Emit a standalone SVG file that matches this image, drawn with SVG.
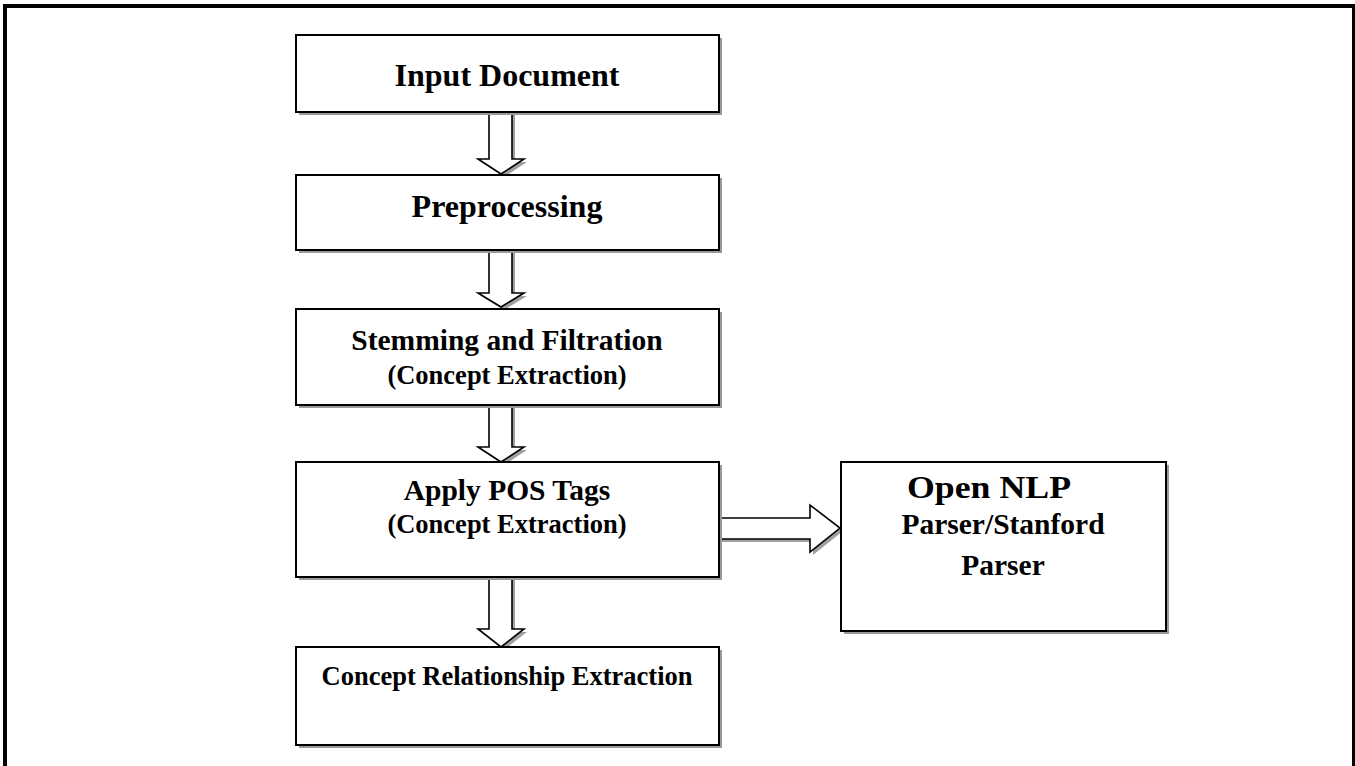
<svg xmlns="http://www.w3.org/2000/svg" width="1355" height="766" viewBox="0 0 1355 766">
  <style>
    .box { fill: #ffffff; stroke: #000000; stroke-width: 2; }
    .shadow { fill: #9a9a9a; stroke: none; }
    .arrow { fill: #ffffff; stroke: #000000; stroke-width: 1.6; stroke-linejoin: miter; }
    .arrow-shadow { fill: #a0a0a0; stroke: none; }
    .title { font-family: "Liberation Serif", "Times New Roman", serif; font-weight: bold; fill: #000000; text-anchor: middle; }
  </style>

  <rect width="1355" height="766" fill="#ffffff"/>
  <!-- page frame -->
  <rect x="5" y="6" width="1349" height="800" fill="none" stroke="#000000" stroke-width="4"/>

  <g id="connectors">
    <!-- Input Document -> Preprocessing -->
    <path class="arrow-shadow" d="M492,114 H515 V162 H527 L504,177 L481,162 H492 Z"/>
    <path class="arrow" d="M489,111 H512 V159 H524 L501,174 L478,159 H489 Z"/>
    <!-- Preprocessing -> Stemming and Filtration -->
    <path class="arrow-shadow" d="M492,253 H515 V296 H527 L504,310 L481,296 H492 Z"/>
    <path class="arrow" d="M489,250 H512 V293 H524 L501,307 L478,293 H489 Z"/>
    <!-- Stemming and Filtration -> Apply POS Tags -->
    <path class="arrow-shadow" d="M492,408 H515 V450 H527 L504,465 L481,450 H492 Z"/>
    <path class="arrow" d="M489,405 H512 V447 H524 L501,462 L478,447 H489 Z"/>
    <!-- Apply POS Tags -> Concept Relationship Extraction -->
    <path class="arrow-shadow" d="M492,580 H515 V632 H527 L504,650 L481,632 H492 Z"/>
    <path class="arrow" d="M489,577 H512 V629 H524 L501,647 L478,629 H489 Z"/>
    <!-- Apply POS Tags -> Open NLP Parser -->
    <path class="arrow-shadow" d="M721,521 H813 V508 L843,531 L813,555 V542 H721 Z"/>
    <path class="arrow" d="M718,518 H810 V505 L840,528 L810,552 V539 H718 Z"/>
  </g>

  <g id="input-document">
    <rect class="shadow" x="299" y="38" width="423" height="77"/>
    <rect class="box" x="296" y="35" width="423" height="77"/>
    <text class="title" x="507" y="86" font-size="32">Input Document</text>
  </g>

  <g id="preprocessing">
    <rect class="shadow" x="299" y="178" width="423" height="75"/>
    <rect class="box" x="296" y="175" width="423" height="75"/>
    <text class="title" x="507" y="217" font-size="32">Preprocessing</text>
  </g>

  <g id="stemming-filtration">
    <rect class="shadow" x="299" y="312" width="423" height="96"/>
    <rect class="box" x="296" y="309" width="423" height="96"/>
    <text class="title" x="507" y="350" font-size="29.5">Stemming and Filtration</text>
    <text class="title" x="507" y="384" font-size="26.5">(Concept Extraction)</text>
  </g>

  <g id="apply-pos-tags">
    <rect class="shadow" x="299" y="465" width="423" height="115"/>
    <rect class="box" x="296" y="462" width="423" height="115"/>
    <text class="title" x="507" y="500" font-size="29.5">Apply POS Tags</text>
    <text class="title" x="507" y="533" font-size="26.5">(Concept Extraction)</text>
  </g>

  <g id="concept-relationship-extraction">
    <rect class="shadow" x="299" y="650" width="423" height="98"/>
    <rect class="box" x="296" y="647" width="423" height="98"/>
    <text class="title" x="507" y="685" font-size="26.5">Concept Relationship Extraction</text>
  </g>

  <g id="open-nlp-parser">
    <rect class="shadow" x="844" y="465" width="325" height="169"/>
    <rect class="box" x="841" y="462" width="325" height="169"/>
    <text class="title" x="989" y="498" font-size="31" textLength="164" lengthAdjust="spacingAndGlyphs">Open NLP</text>
    <text class="title" x="1003" y="534" font-size="29.5">Parser/Stanford</text>
    <text class="title" x="1003" y="575" font-size="29.5">Parser</text>
  </g>
</svg>
